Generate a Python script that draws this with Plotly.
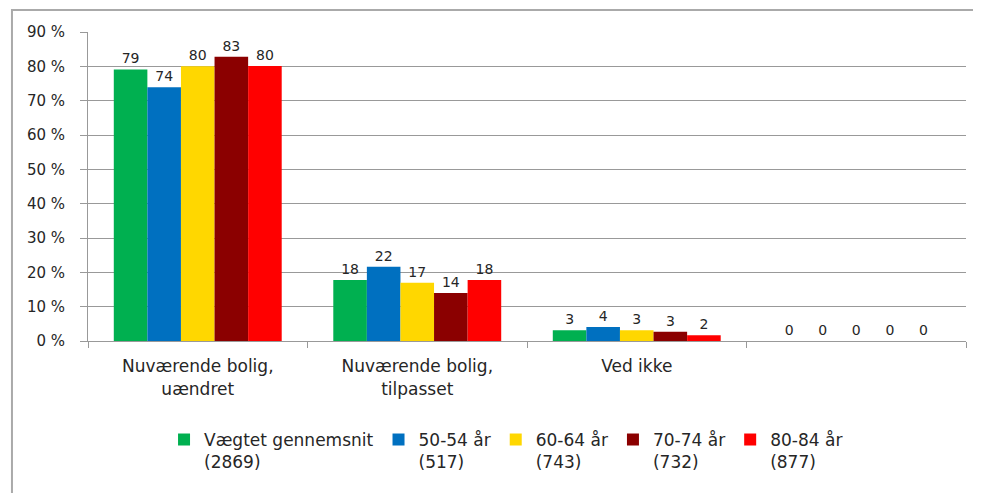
import plotly.graph_objects as go

categories = ["Nuværende bolig,<br>uændret", "Nuværende bolig,<br>tilpasset", "Ved ikke", " "]
series_names = ["Vægtet gennemsnit<br>(2869)", "50-54 år<br>(517)", "60-64 år<br>(743)", "70-74 år<br>(732)", "80-84 år<br>(877)"]
vaegtet = [79.1, 17.8, 3.1, 0]
aar_50_54 = [73.9, 21.6, 4.1, 0]
aar_60_64 = [80.0, 17.0, 3.1, 0]
aar_70_74 = [82.8, 14.0, 2.7, 0]
aar_80_84 = [80.1, 17.8, 1.7, 0]
colors = ["#00b050", "#0070c0", "#ffd700", "#8b0000", "#ff0000"]
y_ticks = [0, 10, 20, 30, 40, 50, 60, 70, 80, 90]
y_ticktext = [f"{v} %" for v in y_ticks]

FONT = "DejaVu Sans"
TXT = "#262626"
fig = go.Figure()
for name, vals, col in zip(series_names, [vaegtet, aar_50_54, aar_60_64, aar_70_74, aar_80_84], colors):
    fig.add_trace(go.Bar(
        x=categories, y=vals, name=name, marker=dict(color=col, line=dict(width=0)),
        texttemplate="%{y:.0f}", textposition="outside",
        textfont=dict(family=FONT, size=14, color=TXT), cliponaxis=False,
    ))

fig.update_layout(
    width=981, height=493,
    margin=dict(l=80, r=23, t=24, b=160),
    barmode="group", bargap=0.235, bargroupgap=0,
    plot_bgcolor="white", paper_bgcolor="white",
    font=dict(family=FONT, size=15, color=TXT),
    xaxis=dict(
        showline=True, linecolor="#999", linewidth=1,
        ticks="outside", tickson="boundaries", ticklen=6, tickcolor="#999",
        tickfont=dict(family=FONT, size=17, color=TXT),
        ticklabelstandoff=10,
        showgrid=False,
    ),
    yaxis=dict(
        range=[0, 90], tickvals=y_ticks, ticktext=y_ticktext,
        showline=True, linecolor="#999", linewidth=1,
        ticks="outside", ticklen=7, tickcolor="#999",
        ticklabelstandoff=12,
        showgrid=True, gridcolor="#999", gridwidth=1,
        tickfont=dict(family=FONT, size=15, color=TXT),
        zeroline=False,
    ),
    legend=dict(
        orientation="h", x=0.0866, xanchor="left", y=-0.262, yanchor="top",
        valign="top", traceorder="normal",
        font=dict(family=FONT, size=17, color=TXT),
    ),
    showlegend=True,
    shapes=[dict(
        type="rect", xref="paper", yref="paper",
        x0=-0.0866, x1=1.3, y0=-1.0, y1=1.0712,
        line=dict(color="#aaaaaa", width=2), layer="below",
    )],
)

fig.write_html("out.html")
